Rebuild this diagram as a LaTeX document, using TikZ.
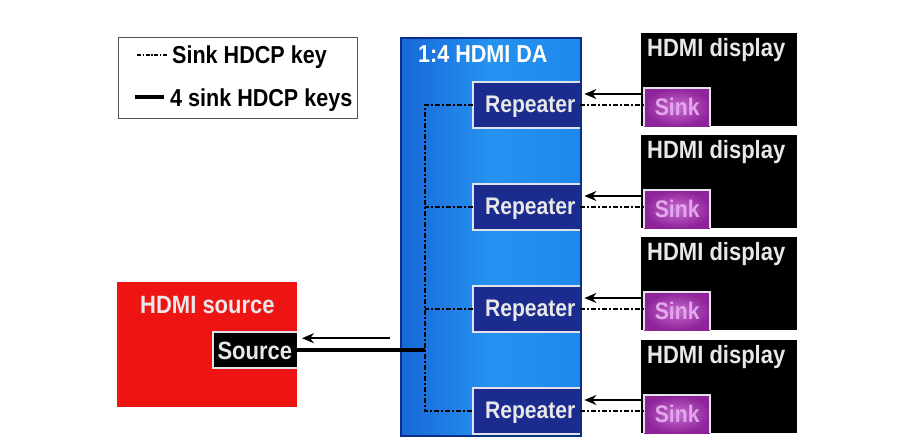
\documentclass[tikz,border=0pt]{standalone}
\usepackage{fontspec}
\setmainfont{Liberation Sans}
\newfontfamily\lblfont{Liberation Sans}[FakeStretch=0.88]
\usetikzlibrary{arrows.meta,calc}
\definecolor{dablue}{HTML}{2592F0}
\definecolor{daleft}{HTML}{1868D8}
\definecolor{daright}{HTML}{1E88EC}
\definecolor{daedge}{HTML}{0B2F86}
\definecolor{repfill}{HTML}{1B2C8E}
\definecolor{srcred}{HTML}{EE1414}
\definecolor{sinkfill}{HTML}{8E2498}
\definecolor{sinklight}{HTML}{C86AD2}
\definecolor{sinktext}{HTML}{E0A8EA}
\definecolor{framecol}{HTML}{E2E2EA}
\definecolor{labelcol}{HTML}{E8E8E8}
\definecolor{legendedge}{HTML}{555555}
\begin{document}
\begin{tikzpicture}[x=1pt,y=-1pt,
  lbl/.style={text=labelcol, font=\lblfont\bfseries\fontsize{25}{27}\selectfont, inner sep=0pt, anchor=base west},
  legtext/.style={text=black, font=\lblfont\bfseries\fontsize{24.5}{26}\selectfont, inner sep=0pt, anchor=base west},
  keyline/.style={line width=2.6pt, dash pattern=on 5pt off 2pt on 2pt off 2pt},
  keysline/.style={line width=4pt},
  sigarrow/.style={line width=1.8pt, -{Stealth[length=12pt,width=10pt]}},
  edgeline/.style={framecol, line width=2pt},
  dabox/.style={left color=daleft, right color=daright, middle color=dablue, draw=daedge, line width=2pt,
    minimum width=180pt, minimum height=398pt, anchor=north west, inner sep=0pt},
  repbox/.style={fill=repfill, text=labelcol, font=\lblfont\bfseries\fontsize{24}{26}\selectfont,
    text height=17pt, text depth=3pt,
    minimum width=107pt, minimum height=46pt, anchor=west, inner sep=0pt},
  dispbox/.style={fill=black, minimum width=156pt, minimum height=93pt, anchor=north west, inner sep=0pt},
  sinkbox/.style={inner color=sinklight, outer color=sinkfill, text=sinktext,
    font=\lblfont\bfseries\fontsize{24}{26}\selectfont, text height=17pt, text depth=0pt,
    minimum width=66pt, minimum height=38pt, anchor=south west, inner sep=0pt},
  srcbox/.style={fill=srcred, minimum width=180pt, minimum height=125pt, anchor=north west, inner sep=0pt},
  srcport/.style={fill=black, text=labelcol, font=\lblfont\bfseries\fontsize{25}{27}\selectfont,
    text height=18pt, text depth=0pt,
    minimum width=84pt, minimum height=36pt, anchor=north east, inner sep=0pt},
  legbox/.style={draw=legendedge, line width=1.3pt, fill=white, minimum width=239pt, minimum height=81pt,
    anchor=north west, inner sep=0pt}
]
\useasboundingbox[fill=white] (0,0) rectangle (911,445);

% legend
\node[legbox] (leg) at (118,37) {};
\coordinate (k1a) at (137,55);
\coordinate (k1b) at (167,55);
\coordinate (k2a) at (135,97);
\coordinate (k2b) at (164,97);
\draw[keyline, line width=2pt, dash pattern=on 4pt off 1.5pt on 1.5pt off 1.5pt] (k1a) -- (k1b);
\draw[keysline] (k2a) -- (k2b);
\node[legtext] (l1) at (172,63) {Sink HDCP key};
\node[legtext] (l2) at (170,106) {4 sink HDCP keys};

% distribution amplifier
\node[dabox] (da) at (400,37) {};
\node[lbl, text=white, font=\lblfont\bfseries\fontsize{24.5}{26}\selectfont] (datitle) at (418,62) {1:4 HDMI DA};
\node[repbox] (r1) at (473,105) {\hspace*{7pt}Repeater\hfill};
\node[repbox] (r2) at (473,207) {\hspace*{7pt}Repeater\hfill};
\node[repbox] (r3) at (473,309) {\hspace*{7pt}Repeater\hfill};
\node[repbox] (r4) at (473,411) {\hspace*{7pt}Repeater\hfill};
\foreach \r in {r1,r2,r3,r4}{
  \draw[edgeline] (\r.north east) -| (\r.south west) -- (\r.south east);
}

% displays
\node[dispbox] (d1) at (641,33) {};
\node[dispbox] (d2) at (641,135) {};
\node[dispbox] (d3) at (641,237) {};
\node[dispbox] (d4) at (641,340) {};
\foreach \d/\s in {d1/s1,d2/s2,d3/s3,d4/s4}{
  \node[lbl] (\d t) at ($(\d.north west)+(6,23)$) {HDMI display};
  \node[sinkbox] (\s) at ($(\d.south west)+(3,0)$) {Sink};
  \draw[edgeline] (\s.south west) -- (\s.north west) -- (\s.north east) -- (\s.south east);
}

% source
\node[srcbox] (hs) at (117,282) {};
\node[lbl] (hst) at (140,313) {HDMI source};
\node[srcport] (src) at (297,332) {Source};
\draw[edgeline] (src.north east) -| (src.south west) -- (src.south east);

% internal key bus
\coordinate (bt) at (425,105);
\coordinate (bb) at (425,411);
\draw[keyline] (r1.west) -- (bt) -- (bb) -- (r4.west);
\draw[keyline] (r2.west) -- (r2.west -| bt);
\draw[keyline] (r3.west) -- (r3.west -| bt);
\draw[keysline] (src.east) -- (src.east -| bt);
\coordinate (sa) at ($(src.east)+(93,-12)$);
\coordinate (sb) at ($(src.east)+(5,-12)$);
\draw[sigarrow] (sa) -- (sb);

% sink keys and video paths
\foreach \r/\s in {r1/s1,r2/s2,r3/s3,r4/s4}{
  \coordinate (\r a) at ($(\r.east -| \s.west)+(-2,-11)$);
  \coordinate (\r b) at ($(\r.east)+(4,-11)$);
  \draw[sigarrow] (\r a) -- (\r b);
  \draw[keyline] (\r.east) -- (\r.east -| \s.west);
}
\end{tikzpicture}
\end{document}
